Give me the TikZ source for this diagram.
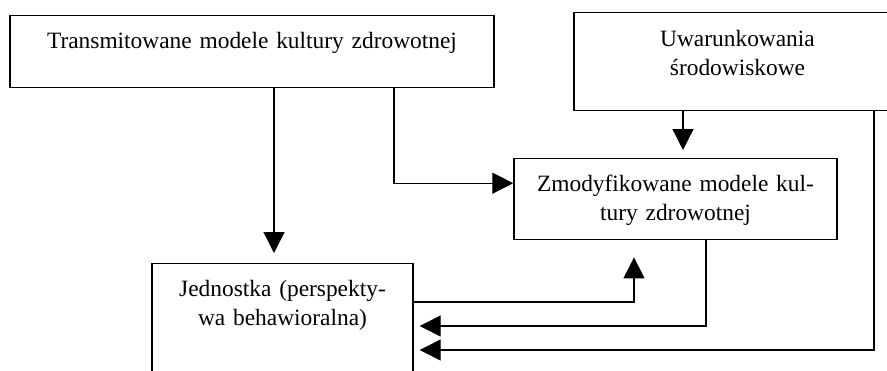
\documentclass[tikz,border=0pt]{standalone}
\usepackage{fontspec}
\setmainfont{Liberation Serif}
\usepackage{tikz}
\usetikzlibrary{arrows.meta, positioning, calc}

\tikzset{
  box/.style={draw, line width=0.7pt, inner sep=0pt, anchor=north, align=center,
    font=\fontsize{11.7pt}{14.6pt}\selectfont, text height=16.5pt},
  arr/.style={line width=0.65pt, -{Triangle[length=10.5pt, width=10.5pt]}},
  link/.style={line width=0.65pt}
}

\begin{document}
\begin{tikzpicture}[x=0.5pt, y=-0.5pt]
\useasboundingbox (0,0) rectangle (887,370);
\clip (0,0) rectangle (887,370);

% Boxes
\node[box, text width=242pt, text depth=19.5pt] (trans) at (252,15)
  {Transmitowane modele kultury zdrowotnej};
\node[box, text width=163.5pt, text height=17pt, text depth=32pt] (envir) at (737.5,12)
  {Uwarunkowania\\ środowiskowe};
\node[box, text width=161.5pt, text depth=24pt] (modif) at (675.5,158)
  {Zmodyfikowane modele kul-\\ tury zdrowotnej};
\node[box, text width=130.5pt, text depth=43.5pt] (indiv) at (282.5,263)
  {Jednostka (perspekty-\\ wa behawioralna)};

% Arrows from the top boxes
\draw[arr, shorten >=5pt] ([xshift=11pt]trans.south) -- ([xshift=11pt]trans.south |- indiv.north);
\draw[arr] ([xshift=71pt]trans.south) |- ([yshift=8pt]modif.west);
\draw[arr, shorten >=4pt] ([xshift=-27.25pt]envir.south) -- ([xshift=-27.25pt]envir.south |- modif.north);

% Feedback loops
\draw[arr, shorten >=8.5pt] ([yshift=-19.5pt]indiv.north east) -| ([xshift=-20.75pt]modif.south);
\draw[arr, shorten >=3pt] ([xshift=15.25pt]modif.south) |- ([yshift=-31.5pt]indiv.north east);
\draw[arr, shorten >=3pt] ([xshift=68.25pt]envir.south) |- ([yshift=-43.5pt]indiv.north east);
\end{tikzpicture}
\end{document}
